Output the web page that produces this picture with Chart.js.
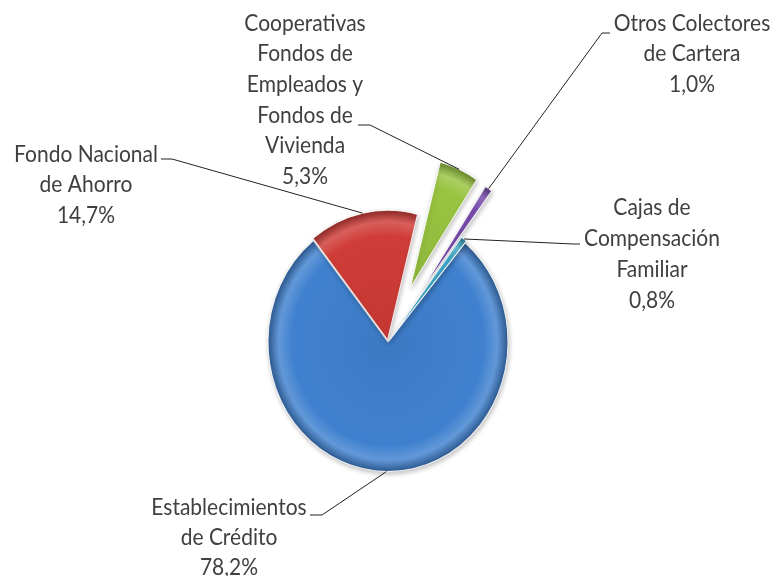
<!DOCTYPE html>
<html>
<head>
<meta charset="utf-8">
<script src="https://cdn.jsdelivr.net/npm/chart.js@4.4.1/dist/chart.umd.min.js"></script>
<style>
  html, body { margin: 0; padding: 0; background: #fff; }
</style>
</head>
<body>
<canvas id="chart" width="774" height="576"></canvas>
<script>
// Datos del gráfico
const categories = [
    'Establecimientos\nde Crédito',
    'Fondo Nacional\nde Ahorro',
    'Cooperativas\nFondos de\nEmpleados y\nFondos de\nVivienda',
    'Otros Colectores\nde Cartera',
    'Cajas de\nCompensación\nFamiliar'
];
const shares = [78.2, 14.7, 5.3, 1.0, 0.8];

// Estilo
const colors = ['#4081cf', '#d03c37', '#98c440', '#7a4db0', '#3ea9c9'];
const explode = [0, 2, 55, 54, 2];
const STRETCH = 1.08;   // la imagen original está algo estirada en vertical

// Posición de las etiquetas (centro x, primera línea base, interlineado) y tramo horizontal de la guía
const labelLayout = [
    { x: 229, y: 515, step: 30, line: [[310, 515], [322, 515]] },
    { x: 86, y: 161.5, step: 30.5, line: [[161, 159], [172, 159]] },
    { x: 305, y: 30.7, step: 30.6, line: [[358, 125], [370, 125]] },
    { x: 692, y: 30.7, step: 30.6, line: [[610, 33], [602, 33]] },
    { x: 652, y: 215, step: 31, line: [[580, 244], [573, 244]] }
];

const pct = v => v.toFixed(1).replace('.', ',') + '%';

function shade(hex, amt) {
    const n = parseInt(hex.slice(1), 16);
    let r = n >> 16, g = (n >> 8) & 255, b = n & 255;
    const t = amt < 0 ? 0 : 255, p = Math.abs(amt);
    r = Math.round(r + (t - r) * p);
    g = Math.round(g + (t - g) * p);
    b = Math.round(b + (t - b) * p);
    return `rgb(${r},${g},${b})`;
}

// Relleno con un poco de bisel (radial)
function bevelFill(context) {
    const chart = context.chart;
    const area = chart.chartArea;
    const i = context.dataIndex;
    const base = colors[i];
    if (!area) return base;
    const total = shares.reduce((a, b) => a + b, 0);
    const before = shares.slice(0, i).reduce((a, b) => a + b, 0);
    const start = -Math.PI / 2 + chart.options.rotation * Math.PI / 180;
    const mid = start + (before + shares[i] / 2) / total * Math.PI * 2;
    const r = chart.options.radius;
    const x = (area.left + area.right) / 2 + Math.cos(mid) * explode[i];
    const y = (area.top + area.bottom) / 2 + Math.sin(mid) * explode[i];
    const g = chart.ctx.createRadialGradient(x, y, 0, x, y, r);
    g.addColorStop(0, shade(base, -0.06));
    g.addColorStop(0.8, base);
    g.addColorStop(0.91, shade(base, 0.18));
    g.addColorStop(1, shade(base, -0.3));
    return g;
}

const explodePlugin = {
    id: 'explode',
    afterDatasetsUpdate(chart) {
        chart.getDatasetMeta(0).data.forEach((arc, i) => {
            const mid = (arc.startAngle + arc.endAngle) / 2;
            arc.x += Math.cos(mid) * explode[i];
            arc.y += Math.sin(mid) * explode[i];
        });
    },
    beforeDatasetsDraw(chart) {
        const { ctx, chartArea } = chart;
        const cy = (chartArea.top + chartArea.bottom) / 2;
        ctx.save();
        ctx.translate(0, cy);
        ctx.scale(1, STRETCH);
        ctx.translate(0, -cy);
        ctx.shadowColor = 'rgba(0,0,0,0.25)';
        ctx.shadowBlur = 5;
        ctx.shadowOffsetX = 1;
        ctx.shadowOffsetY = 2;
    },
    afterDatasetsDraw(chart) {
        chart.ctx.restore();
    }
};

const labelPlugin = {
    id: 'sliceLabels',
    afterDraw(chart) {
        const { ctx, chartArea } = chart;
        const cy = (chartArea.top + chartArea.bottom) / 2;
        const meta = chart.getDatasetMeta(0);
        ctx.save();
        ctx.font = '21px Lato';
        ctx.fillStyle = '#404040';
        ctx.textAlign = 'center';
        ctx.textBaseline = 'alphabetic';
        ctx.strokeStyle = '#222';
        ctx.lineWidth = 1;
        labelLayout.forEach((lab, i) => {
            const arc = meta.data[i];
            const mid = (arc.startAngle + arc.endAngle) / 2;
            const ax = arc.x + Math.cos(mid) * arc.outerRadius;
            const ay = cy + (arc.y + Math.sin(mid) * arc.outerRadius - cy) * STRETCH;
            ctx.beginPath();
            ctx.moveTo(lab.line[0][0], lab.line[0][1]);
            ctx.lineTo(lab.line[1][0], lab.line[1][1]);
            ctx.lineTo(ax, ay);
            ctx.stroke();

            const lines = [...categories[i].split('\n'), pct(shares[i])];
            lines.forEach((t, k) => {
                ctx.save();
                ctx.translate(lab.x, lab.y + k * lab.step);
                ctx.scale(1, STRETCH);
                ctx.fillText(t, 0, 0);
                ctx.restore();
            });
        });
        ctx.restore();
    }
};

new Chart(document.getElementById('chart'), {
    type: 'pie',
    data: {
        labels: categories,
        datasets: [{
            data: shares,
            backgroundColor: bevelFill,
            borderColor: 'rgba(255,255,255,0.85)',
            borderWidth: 1
        }]
    },
    options: {
        responsive: false,
        animation: false,
        events: [],
        rotation: 40,
        radius: 120,
        layout: { padding: { top: 108, left: 2 } },
        plugins: {
            legend: { display: false },
            tooltip: { enabled: false }
        }
    },
    plugins: [explodePlugin, labelPlugin]
});
</script>
</body>
</html>
